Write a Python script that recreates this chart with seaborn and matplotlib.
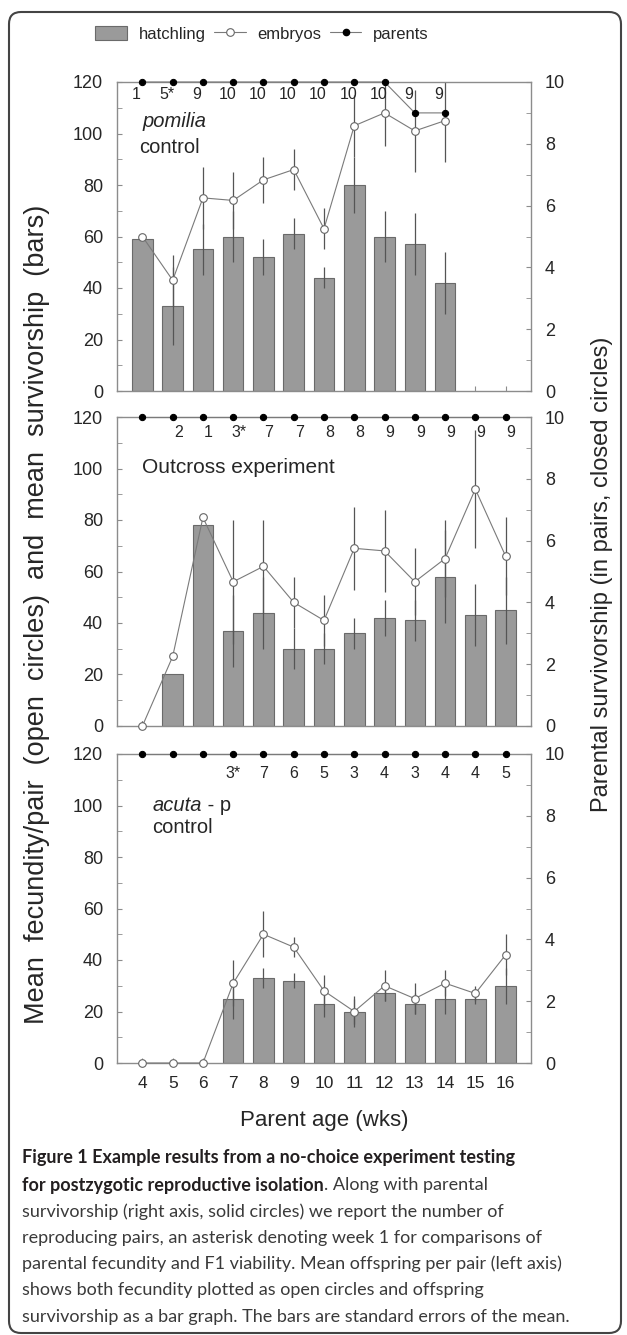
import numpy as np
import pandas as pd
import matplotlib
matplotlib.use("Agg")
import matplotlib.pyplot as plt
import seaborn as sns
from matplotlib.ticker import MultipleLocator
from matplotlib.patches import Patch, FancyBboxPatch
from matplotlib.lines import Line2D
from matplotlib.transforms import IdentityTransform

# parent age (weeks)
weeks = [4, 5, 6, 7, 8, 9, 10, 11, 12, 13, 14, 15, 16]
nan = np.nan

# pomilia control
pom_hatch = [59, 33, 55, 60, 52, 61, 44, 80, 60, 57, 42, nan, nan]
pom_hatch_se = [0, 15, 10, 10, 7, 6, 4, 11, 10, 12, 12, nan, nan]
pom_emb = [60, 43, 75, 74, 82, 86, 63, 103, 108, 101, 105, nan, nan]
pom_emb_se = [0, 10, 12, 11, 9, 8, 8, 12, 13, 16, 16, nan, nan]
pom_parents = [10, 10, 10, 10, 10, 10, 10, 10, 10, 9, 9, nan, nan]
pom_pairs = ["1", "5*", "9", "10", "10", "10", "10", "10", "10", "9", "9", "", ""]

# outcross experiment
out_hatch = [nan, 20, 78, 37, 44, 30, 30, 36, 42, 41, 58, 43, 45]
out_hatch_se = [nan, 0, 0, 14, 14, 8, 6, 6, 7, 8, 18, 12, 13]
out_emb = [0, 27, 81, 56, 62, 48, 41, 69, 68, 56, 65, 92, 66]
out_emb_se = [2, 0, 0, 24, 18, 10, 10, 16, 16, 13, 15, 23, 15]
out_parents = [10] * 13
out_pairs = ["", "2", "1", "3*", "7", "7", "8", "8", "9", "9", "9", "9", "9"]

# acuta - p control
acu_hatch = [nan, nan, nan, 25, 33, 32, 23, 20, 27, 23, 25, 25, 30]
acu_hatch_se = [nan, nan, nan, 8, 4, 3, 5, 5, 3, 4, 6, 2, 7]
acu_emb = [0, 0, 0, 31, 50, 45, 28, 20, 30, 25, 31, 27, 42]
acu_emb_se = [0, 0, 0, 9, 9, 4, 6, 6, 6, 6, 5, 3, 8]
acu_parents = [10] * 13
acu_pairs = ["", "", "", "3*", "7", "6", "5", "3", "4", "3", "4", "4", "5"]

caption = [
    "Figure 1 Example results from a no-choice experiment testing",
    "for postzygotic reproductive isolation",
    ". Along with parental",
    "survivorship (right axis, solid circles) we report the number of",
    "reproducing pairs, an asterisk denoting week 1 for comparisons of",
    "parental fecundity and F1 viability. Mean offspring per pair (left axis)",
    "shows both fecundity plotted as open circles and offspring",
    "survivorship as a bar graph. The bars are standard errors of the mean.",
]

sns.set_style("ticks")
plt.rcParams['font.family'] = ['Liberation Sans', 'DejaVu Sans']

BAR = '#9a9a9a'
BAR_EDGE = '#6a6a6a'
SPINE = '#8c8c8c'
LINE = '#7a7a7a'

fig = plt.figure(figsize=(6.27, 13.35), dpi=100)


def draw_panel(ax, hatch, hatch_se, emb, emb_se, parents, pairs, dx, label_y):
    df = pd.DataFrame({'week': weeks, 'hatch': hatch, 'hse': hatch_se,
                       'emb': emb, 'ese': emb_se, 'par': parents})
    bars = df.dropna(subset=['hatch'])
    sns.barplot(data=bars, x='week', y='hatch', native_scale=True, width=0.68,
                color=BAR, saturation=1, edgecolor=BAR_EDGE, linewidth=0.8,
                errorbar=None, ax=ax, zorder=1)
    ax.errorbar(bars['week'], bars['hatch'], yerr=bars['hse'], fmt='none',
                ecolor='#555555', elinewidth=0.9, capsize=0, zorder=2)
    em = df.dropna(subset=['emb'])
    ax.errorbar(em['week'], em['emb'], yerr=em['ese'], fmt='none',
                ecolor='#555555', elinewidth=0.9, capsize=0, zorder=2)
    sns.lineplot(data=em, x='week', y='emb', color=LINE, lw=0.8, marker='o',
                 markersize=5.5, markerfacecolor='white', markeredgecolor='#666666',
                 markeredgewidth=0.8, errorbar=None, ax=ax, zorder=4, clip_on=False)

    ax.set_ylim(0, 120)
    ax.set_xlim(3.16, 16.84)
    ax.set_yticks(range(0, 121, 20))
    ax.yaxis.set_minor_locator(MultipleLocator(10))
    ax.set_xticks(weeks)
    ax.set_xlabel('')
    ax.set_ylabel('')
    ax.tick_params(axis='both', which='both', direction='in', length=3.5,
                   color=SPINE, labelsize=13, pad=10, right=False, top=False)
    ax.tick_params(axis='x', labelsize=12.5, pad=9)
    for s in ax.spines.values():
        s.set_visible(True)
        s.set_color(SPINE)
        s.set_linewidth(1.0)

    ax2 = ax.twinx()
    pr = df.dropna(subset=['par'])
    sns.lineplot(data=pr, x='week', y='par', color=LINE, lw=0.8, marker='o',
                 markersize=4.5, markerfacecolor='black', markeredgecolor='black',
                 errorbar=None, ax=ax2, zorder=5, clip_on=False)
    ax2.set_ylim(0, 10)
    ax2.set_yticks(range(0, 11, 2))
    ax2.yaxis.set_minor_locator(MultipleLocator(1))
    ax2.set_ylabel('')
    ax2.tick_params(axis='y', which='both', direction='in', length=3.5,
                    color=SPINE, labelsize=13, pad=10)
    for s in ax2.spines.values():
        s.set_visible(False)

    for w, p in zip(weeks, pairs):
        if p:
            ax.text(w + dx, label_y, p, ha='center', va='center', fontsize=11.5)
    return ax2


left, width, height = 117 / 627, 414 / 627, 309 / 1335
ax_top = fig.add_axes([left, 1 - 391 / 1335, width, height])
ax_mid = fig.add_axes([left, 1 - 726 / 1335, width, height])
ax_bot = fig.add_axes([left, 1 - 1063 / 1335, width, height])

draw_panel(ax_top, pom_hatch, pom_hatch_se, pom_emb, pom_emb_se, pom_parents,
           pom_pairs, -0.2, 115)
draw_panel(ax_mid, out_hatch, out_hatch_se, out_emb, out_emb_se, out_parents,
           out_pairs, 0.18, 114)
draw_panel(ax_bot, acu_hatch, acu_hatch_se, acu_emb, acu_emb_se, acu_parents,
           acu_pairs, 0.0, 112.5)

ax_top.tick_params(labelbottom=False)
ax_mid.tick_params(labelbottom=False)
ax_bot.set_xticklabels([str(w) for w in weeks])
ax_bot.set_xlabel('Parent age (wks)', fontsize=16, labelpad=14)

# panel titles
ax_top.text(4.0, 104.5, 'pomilia', style='italic', fontsize=14.5, va='center')
ax_top.text(3.88, 94.5, 'control', fontsize=14.5, va='center')
ax_mid.text(4.0, 100.5, 'Outcross experiment', fontsize=15, va='center')
t = ax_bot.text(4.33, 100, 'acuta', style='italic', fontsize=14.5, va='center')
ax_bot.annotate(' - p', xy=(1, 0.5), xycoords=t, fontsize=14.5, va='center')
ax_bot.text(4.33, 91.4, 'control', fontsize=14.5, va='center')

# axis titles
fig.text(37 / 627, 0.54, 'Mean  fecundity/pair  (open  circles)  and  mean  survivorship  (bars)',
         rotation=90, ha='center', va='center', fontsize=19.5,
         family=['Liberation Sans Narrow', 'Liberation Sans'])
fig.text(602 / 627, 0.57, 'Parental survivorship (in pairs, closed circles)',
         rotation=90, ha='center', va='center', fontsize=17)

# legend
handles = [Patch(facecolor=BAR, edgecolor=BAR_EDGE, linewidth=0.8),
           Line2D([], [], color=LINE, lw=0.8, marker='o', ms=5.5,
                  mfc='white', mec='#666666', mew=0.8),
           Line2D([], [], color=LINE, lw=0.8, marker='o', ms=4.5,
                  mfc='black', mec='black')]
fig.legend(handles, ['hatchling', 'embryos', 'parents'], loc='center',
           bbox_to_anchor=(0.418, 1 - 34 / 1335), ncol=3, frameon=False,
           fontsize=12, handlelength=1.9, handleheight=0.9,
           handletextpad=0.7, columnspacing=0.5)

# caption
cx = 22 / 627
cy = [1158, 1185, 1212, 1238, 1264, 1290, 1317]
cfont = ['Lato', 'DejaVu Sans']
csize = 13
fig.text(cx, 1 - cy[0] / 1335, caption[0], fontsize=csize, weight='bold',
         family=cfont, color='#231f20', va='center')
b = fig.text(cx, 1 - cy[1] / 1335, caption[1], fontsize=csize, weight='bold',
             family=cfont, color='#231f20', va='center')
plt.annotate(caption[2], xy=(1, 0.5), xycoords=b, fontsize=csize, family=cfont,
             color='#3a3a3a', va='center', annotation_clip=False)
for line, y in zip(caption[3:], cy[2:]):
    fig.text(cx, 1 - y / 1335, line, fontsize=csize, family=cfont,
             color='#3a3a3a', va='center')

# rounded frame
fig.patches.append(FancyBboxPatch((9, 2), 612, 1321,
                                  boxstyle='round,pad=0,rounding_size=12',
                                  transform=IdentityTransform(), fill=False,
                                  edgecolor='#444444', linewidth=1.5))

fig.savefig('out.png', dpi=100)
